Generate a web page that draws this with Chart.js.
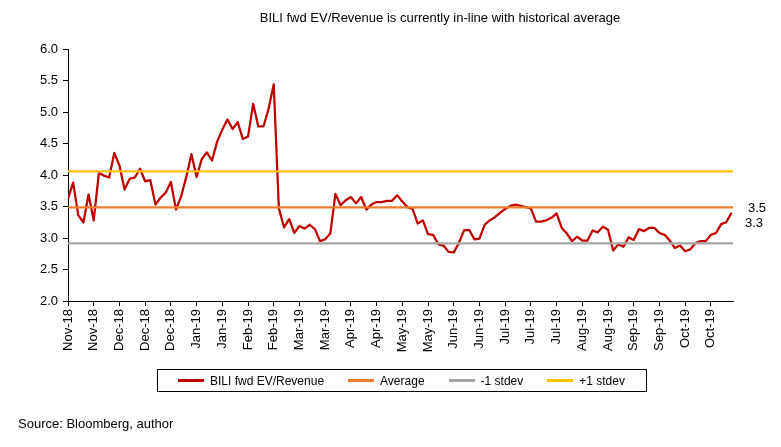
<!DOCTYPE html>
<html>
<head>
<meta charset="utf-8">
<script src="https://cdn.jsdelivr.net/npm/chart.js@4.4.1/dist/chart.umd.min.js"></script>
<style>
  body { margin: 0; background: #fff; font-family: "Liberation Sans", Arial, sans-serif; }
  #wrap { position: relative; width: 781px; height: 447px; }
  .txt { position: absolute; color: #000; white-space: nowrap; }
  #title { left: 440px; top: 10px; transform: translateX(-50%); font-size: 13px; }
  #source { left: 18px; top: 416px; font-size: 13px; }
  .endLbl { font-size: 13px; }
  #legend {
    position: absolute; left: 157px; top: 369px; width: 490px; height: 23px;
    box-sizing: border-box; border: 1px solid #000; display: flex; align-items: center;
    padding-left: 20px; font-size: 12px; white-space: nowrap;
  }
  .item { display: flex; align-items: center; margin-right: 24px; flex-shrink: 0; }
  .swatch { width: 26px; height: 2.5px; margin-right: 6px; flex-shrink: 0; }
</style>
</head>
<body>
<div id="wrap">
  <canvas id="chart" width="781" height="447"></canvas>
  <div id="title" class="txt">BILI fwd EV/Revenue is currently in-line with historical average</div>
  <div class="txt endLbl" style="left:748px;top:200px">3.5</div>
  <div class="txt endLbl" style="left:745px;top:215px">3.3</div>
  <div id="legend"></div>
  <div id="source" class="txt">Source: Bloomberg, author</div>
</div>
<script>
// tick labels, one every 5 points
const xLabels = ['Nov-18','Nov-18','Dec-18','Dec-18','Dec-18','Jan-19','Jan-19','Feb-19','Feb-19',
  'Mar-19','Mar-19','Apr-19','Apr-19','May-19','May-19','Jun-19','Jun-19','Jul-19','Jul-19','Jul-19',
  'Aug-19','Aug-19','Sep-19','Sep-19','Oct-19','Oct-19'];
const step = 5;
const xMax = 129.3;

// BILI fwd EV/Revenue
const evRevenue = [
  3.62, 3.88, 3.36, 3.25, 3.69, 3.28, 4.03, 3.99, 3.96, 4.35,
  4.15, 3.77, 3.94, 3.96, 4.10, 3.90, 3.92, 3.53, 3.64, 3.72,
  3.89, 3.45, 3.66, 3.97, 4.33, 3.97, 4.25, 4.36, 4.23, 4.53,
  4.72, 4.88, 4.73, 4.84, 4.57, 4.61, 5.13, 4.77, 4.77, 5.05,
  5.44, 3.47, 3.17, 3.30, 3.08, 3.19, 3.15, 3.21, 3.14, 2.95,
  2.98, 3.07, 3.70, 3.52, 3.60, 3.65, 3.55, 3.65, 3.45, 3.53,
  3.57, 3.57, 3.59, 3.59, 3.68, 3.58, 3.49, 3.46, 3.23, 3.28,
  3.06, 3.05, 2.90, 2.88, 2.78, 2.77, 2.92, 3.12, 3.13, 2.98,
  2.99, 3.21, 3.28, 3.33, 3.40, 3.46, 3.51, 3.53, 3.51, 3.49,
  3.47, 3.26, 3.26, 3.28, 3.32, 3.39, 3.16, 3.07, 2.95, 3.02,
  2.96, 2.96, 3.12, 3.09, 3.18, 3.13, 2.80, 2.90, 2.86, 3.01,
  2.97, 3.14, 3.11, 3.16, 3.16, 3.08, 3.05, 2.96, 2.84, 2.88,
  2.79, 2.82, 2.92, 2.95, 2.95, 3.05, 3.08, 3.22, 3.25, 3.40
];
const average = 3.485;
const minusStdev = 2.913;
const plusStdev = 4.057;

const flat = v => [{ x: 0, y: v }, { x: xMax, y: v }];

const datasets = [
  { label: 'BILI fwd EV/Revenue', data: evRevenue.map((v, i) => ({ x: i, y: v })),
    borderColor: '#C00000', order: 1 },
  { label: 'Average',   data: flat(average),    borderColor: '#ED7D31' },
  { label: '-1 stdev',  data: flat(minusStdev), borderColor: '#A5A5A5' },
  { label: '+1 stdev',  data: flat(plusStdev),  borderColor: '#FFC000' },
].map(d => Object.assign({ borderWidth: 2.25, pointRadius: 0, tension: 0,
  borderJoinStyle: 'round', fill: false }, d));

// html legend from the datasets
const leg = document.getElementById('legend');
datasets.forEach(d => {
  leg.insertAdjacentHTML('beforeend',
    `<div class="item"><span class="swatch" style="background:${d.borderColor}"></span>${d.label}</div>`);
});

const tickFont = { family: '"Liberation Sans", Arial, sans-serif', size: 13 };

new Chart(document.getElementById('chart'), {
  type: 'line',
  data: { datasets },
  options: {
    responsive: false,
    animation: false,
    devicePixelRatio: 1,
    layout: { padding: { top: 49, right: 48, left: 0, bottom: 0 } },
    plugins: { legend: { display: false }, tooltip: { enabled: false } },
    scales: {
      x: {
        type: 'linear', min: 0, max: xMax,
        afterFit: s => { s.height = 146; },
        ticks: {
          stepSize: step, includeBounds: false, autoSkip: false,
          minRotation: 90, maxRotation: 90, padding: 3,
          color: '#000', font: tickFont,
          callback: v => xLabels[Math.round(v / step)] ?? '',
        },
        grid: { drawOnChartArea: false, drawTicks: true, tickLength: 5, color: '#000' },
        border: { display: true, color: '#000', width: 1 },
      },
      y: {
        min: 2, max: 6,
        afterFit: s => { s.width = 68; },
        ticks: { stepSize: 0.5, padding: 5, color: '#000', font: tickFont,
          callback: v => v.toFixed(1) },
        grid: { drawOnChartArea: false, drawTicks: true, tickLength: 5, color: '#000' },
        border: { display: true, color: '#000', width: 1 },
      },
    },
  },
});
</script>
</body>
</html>
